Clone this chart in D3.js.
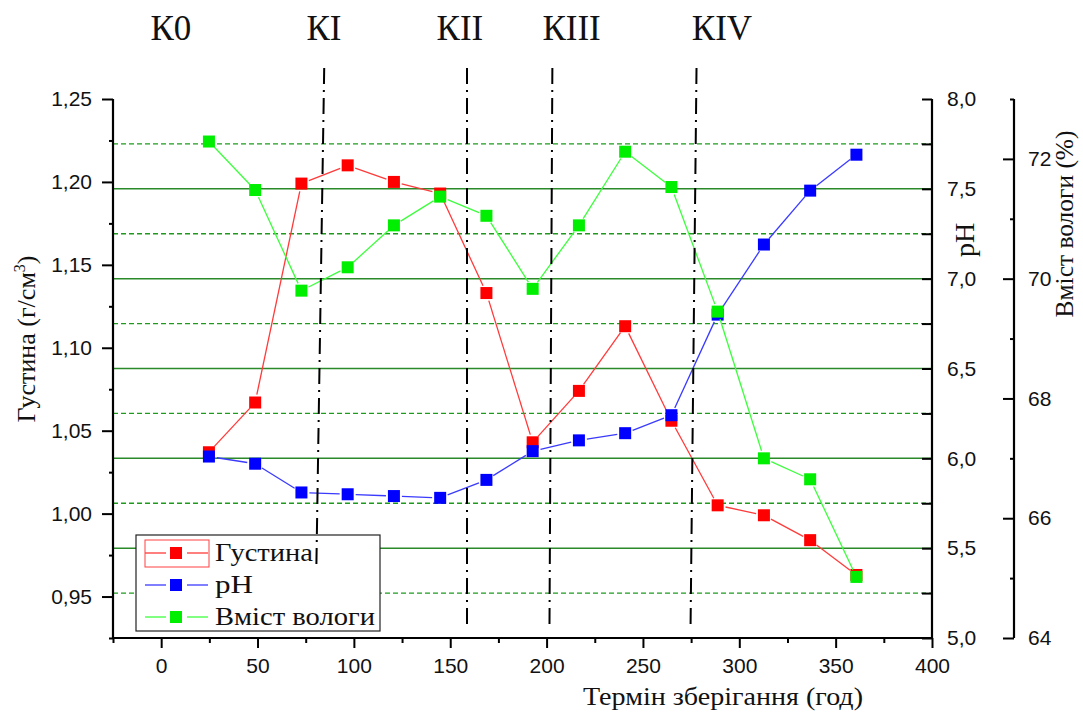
<!DOCTYPE html>
<html>
<head>
<meta charset="utf-8">
<script src="https://cdn.jsdelivr.net/npm/d3@7"></script>
<style>
  html, body { margin: 0; padding: 0; background: #fff; }
  svg { display: block; }
</style>
</head>
<body>
<svg id="chart" width="1083" height="715"></svg>
<script>
// ---------- data ----------
const hours = [24, 48, 72, 96, 120, 144, 168, 192, 216, 240, 264, 288, 312, 336, 360];
const density = [1.037, 1.067, 1.199, 1.210, 1.200, 1.193, 1.133, 1.043, 1.074, 1.113, 1.056, 1.005, 0.999, 0.984, 0.963];
const ph = [6.01, 5.97, 5.81, 5.80, 5.79, 5.78, 5.88, 6.04, 6.10, 6.14, 6.24, 6.80, 7.19, 7.49, 7.69];
const moisture = [72.29, 71.48, 69.80, 70.19, 70.89, 71.37, 71.05, 69.83, 70.89, 72.12, 71.53, 69.45, 67.00, 66.65, 65.02];

const xTicks = [0, 50, 100, 150, 200, 250, 300, 350, 400];
const xMinor = [-25, 25, 75, 125, 175, 225, 275, 325, 375];
const densTicks = [0.95, 1.00, 1.05, 1.10, 1.15, 1.20, 1.25];
const densMinor = [0.925, 0.975, 1.025, 1.075, 1.125, 1.175, 1.225];
const phTicks = [5.0, 5.5, 6.0, 6.5, 7.0, 7.5, 8.0];
const phMinor = [5.25, 5.75, 6.25, 6.75, 7.25, 7.75];
const moistTicks = [64, 66, 68, 70, 72];
const moistMinor = [65, 67, 69, 71, 73];

const stageLabels = ["К0", "КI", "КII", "КIII", "КIV"];
const stageLabelX = [5, 84.5, 155, 213, 291];
const stageBoundTop = [84.6, 158.7, 203, 277.8];
const stageBoundBottom = [80.5, 158.7, 201.5, 274.7];

const seriesNames = ["Густина", "pH", "Вміст вологи"];

// ---------- layout ----------
const L = 113, R = 932, T = 99, B = 638;
const svg = d3.select("#chart");

const x = d3.scaleLinear().domain([-25, 400]).range([L, R]);
const yD = d3.scaleLinear().domain([0.925, 1.25]).range([B, T]);
const yP = d3.scaleLinear().domain([5, 8]).range([B, T]);
const yM = d3.scaleLinear().domain([64, 73]).range([B, T]);

const comma = f => v => d3.format(f)(v).replace(".", ",");
const tickFont = "'Liberation Sans', Arial, sans-serif";
const serif = "'Liberation Serif', 'Times New Roman', serif";

// ---------- grid (from pH axis) ----------
const grid = svg.append("g");
grid.selectAll("line.major").data(phTicks.filter(v => v > 5 && v < 8)).join("line")
  .attr("x1", L).attr("x2", R).attr("y1", d => yP(d)).attr("y2", d => yP(d))
  .attr("stroke", "#2a8a2a").attr("stroke-width", 1.5);
grid.selectAll("line.minor").data(phMinor).join("line")
  .attr("x1", L).attr("x2", R).attr("y1", d => yP(d)).attr("y2", d => yP(d))
  .attr("stroke", "#1f9a1f").attr("stroke-width", 1.3).attr("stroke-dasharray", "5,3");

// ---------- series ----------
function drawSeries(vals, yScale, lineColor, fillColor) {
  const pts = hours.map((h, i) => [x(h) + 1.5, yScale(vals[i])]);
  const g = svg.append("g");
  const gap = 8;
  for (let i = 0; i < pts.length - 1; i++) {
    const [x1, y1] = pts[i], [x2, y2] = pts[i + 1];
    const dx = x2 - x1, dy = y2 - y1, len = Math.hypot(dx, dy);
    if (len <= 2 * gap) continue;
    const ux = dx / len, uy = dy / len;
    g.append("line")
      .attr("x1", x1 + ux * gap).attr("y1", y1 + uy * gap)
      .attr("x2", x2 - ux * gap).attr("y2", y2 - uy * gap)
      .attr("stroke", lineColor).attr("stroke-width", 1.3);
  }
  g.selectAll("rect").data(pts).join("rect")
    .attr("x", d => d[0] - 6).attr("y", d => d[1] - 6)
    .attr("width", 12).attr("height", 12)
    .attr("fill", fillColor);
}
drawSeries(density, yD, "#ff3a3a", "#ff0000");
drawSeries(ph, yP, "#3a3aff", "#0000ff");
drawSeries(moisture, yM, "#3cff3c", "#00ee00");

// ---------- axes ----------
function styleAxis(g, size) {
  g.select(".domain").remove();
  g.selectAll("line").attr("stroke", "#000").attr("stroke-width", 2);
  g.selectAll("text").attr("font-family", tickFont).attr("font-size", size || 21).attr("fill", "#111");
}

// bottom
svg.append("g").attr("transform", `translate(0,${B})`)
  .call(d3.axisBottom(x).tickValues(xTicks).tickSize(10).tickPadding(10).tickFormat(d3.format("d")))
  .call(g => styleAxis(g));
svg.append("g").attr("transform", `translate(0,${B})`)
  .call(d3.axisBottom(x).tickValues(xMinor).tickSize(5).tickFormat(""))
  .call(g => styleAxis(g));

// left (density)
svg.append("g").attr("transform", `translate(${L},0)`)
  .call(d3.axisLeft(yD).tickValues(densTicks).tickSize(11).tickPadding(10).tickFormat(comma(".2f")))
  .call(g => styleAxis(g));
svg.append("g").attr("transform", `translate(${L},0)`)
  .call(d3.axisLeft(yD).tickValues(densMinor).tickSize(4).tickFormat(""))
  .call(g => styleAxis(g));

// right (pH) - ticks point inward
svg.append("g").attr("transform", `translate(${R},0)`)
  .call(d3.axisRight(yP).tickValues(phTicks).tickSizeInner(-10).tickSizeOuter(0).tickPadding(15).tickFormat(comma(".1f")))
  .call(g => styleAxis(g));
svg.append("g").attr("transform", `translate(${R},0)`)
  .call(d3.axisRight(yP).tickValues(phMinor).tickSizeInner(-10).tickSizeOuter(0).tickFormat(""))
  .call(g => styleAxis(g));

// far right (moisture)
const M = 1014;
svg.append("g").attr("transform", `translate(${M},0)`)
  .call(d3.axisRight(yM).tickValues(moistTicks).tickSizeInner(-11).tickSizeOuter(0).tickPadding(14).tickFormat(d3.format("d")))
  .call(g => styleAxis(g));
svg.append("g").attr("transform", `translate(${M},0)`)
  .call(d3.axisRight(yM).tickValues(moistMinor).tickSizeInner(-4).tickSizeOuter(0).tickFormat(""))
  .call(g => styleAxis(g));

// axis lines
const axisLines = [[L, T, L, B + 1], [L - 1, B, R + 1, B], [R, T, R, B], [M, T, M, B]];
svg.append("g").selectAll("line").data(axisLines).join("line")
  .attr("x1", d => d[0]).attr("y1", d => d[1]).attr("x2", d => d[2]).attr("y2", d => d[3])
  .attr("stroke", "#000").attr("stroke-width", 2.2);

// ---------- legend ----------
const leg = svg.append("g");
leg.append("rect").attr("x", 136).attr("y", 535).attr("width", 244).attr("height", 96)
  .attr("fill", "#fff").attr("stroke", "#222").attr("stroke-width", 1.2);
const legColors = [["#ff3a3a", "#ff0000"], ["#3a3aff", "#0000ff"], ["#3cff3c", "#00ee00"]];
const legLen = [98, 38, 160];
const rowY = [553, 585, 617];
seriesNames.forEach((name, i) => {
  const yy = rowY[i];
  leg.append("line").attr("x1", 145).attr("x2", 166).attr("y1", yy).attr("y2", yy)
    .attr("stroke", legColors[i][0]).attr("stroke-width", 1.3);
  leg.append("line").attr("x1", 187).attr("x2", 208).attr("y1", yy).attr("y2", yy)
    .attr("stroke", legColors[i][0]).attr("stroke-width", 1.3);
  leg.append("rect").attr("x", 170).attr("y", yy - 6).attr("width", 12).attr("height", 12)
    .attr("fill", legColors[i][1]);
  leg.append("text").attr("x", 215).attr("y", yy + 8)
    .attr("font-family", serif).attr("font-size", 26).attr("fill", "#111")
    .attr("textLength", legLen[i]).attr("lengthAdjust", "spacingAndGlyphs").text(name);
});
leg.append("rect").attr("x", 145).attr("y", 540).attr("width", 64).attr("height", 27)
  .attr("fill", "none").attr("stroke", "#ff4040").attr("stroke-width", 1);

// ---------- stage boundaries ----------
const bottoms = [570, 628, 628, 628];
svg.append("g").selectAll("line").data(stageBoundTop).join("line")
  .attr("x1", d => x(d)).attr("y1", 68)
  .attr("x2", (d, i) => x(stageBoundBottom[i])).attr("y2", (d, i) => bottoms[i])
  .attr("stroke", "#000").attr("stroke-width", 2).attr("stroke-dasharray", "16,6,2,6");

svg.append("g").selectAll("text").data(stageLabels).join("text")
  .attr("x", (d, i) => x(stageLabelX[i])).attr("y", 40)
  .attr("text-anchor", "middle").attr("font-family", serif).attr("font-size", 35).attr("fill", "#111")
  .text(d => d);

// ---------- titles ----------
svg.append("text").attr("x", 723).attr("y", 705).attr("text-anchor", "middle")
  .attr("font-family", serif).attr("font-size", 25).attr("fill", "#111")
  .attr("textLength", 280).attr("lengthAdjust", "spacingAndGlyphs")
  .text("Термін зберігання (год)");

const lt = svg.append("text").attr("transform", "translate(35,339) rotate(-90)").attr("text-anchor", "middle")
  .attr("font-family", serif).attr("font-size", 26).attr("fill", "#111");
lt.append("tspan").text("Густина (г/см");
lt.append("tspan").attr("dy", -10).attr("font-size", 16).text("3");
lt.append("tspan").attr("dy", 10).text(")");

svg.append("text").attr("transform", "translate(974,240) rotate(-90)").attr("text-anchor", "middle")
  .attr("font-family", serif).attr("font-size", 28).attr("fill", "#111").text("pH");

svg.append("text").attr("transform", "translate(1073,224) rotate(-90)").attr("text-anchor", "middle")
  .attr("font-family", serif).attr("font-size", 25).attr("fill", "#111")
  .attr("textLength", 187).attr("lengthAdjust", "spacingAndGlyphs")
  .text("Вміст вологи (%)");
</script>
</body>
</html>
